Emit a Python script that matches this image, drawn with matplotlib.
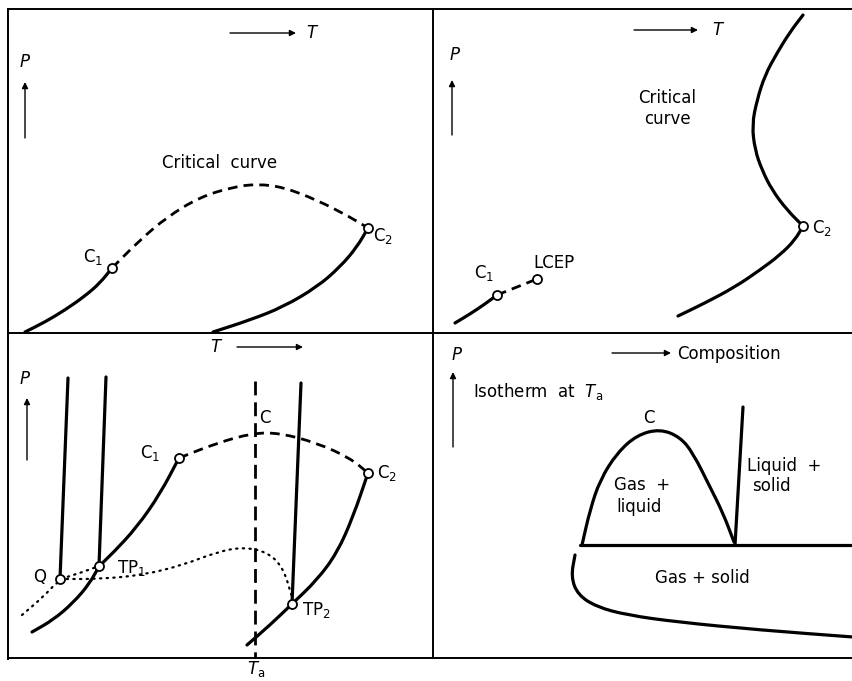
import numpy as np
from matplotlib import pyplot as plt
from matplotlib.path import Path
from matplotlib.patches import PathPatch

# schematic P-T / P-x diagrams, coordinates (pixels)
frame_h = [(8, 853, 9), (8, 853, 333), (8, 853, 658)]
frame_v = [(8, 9, 659), (433, 9, 658)]

# top left panel
tl_left = [(25, 332), (45, 322), (65, 310), (85, 296), (100, 283), (112, 268)]
tl_crit = [(112, 268), (140, 240), (167, 217), (200, 197), (233, 187), (257, 184),
           (283, 187), (317, 200), (350, 217), (368, 228)]
tl_right = [(213, 332), (250, 320), (283, 307), (317, 287), (340, 267), (357, 247), (368, 228)]
tl_pts = [(112, 268), (368, 228)]

# top right panel
tr_left = [(455, 323), (470, 314), (485, 304), (497, 295)]
tr_dash = [(497, 295), (537, 279)]
tr_crit = [(803, 15), (790, 32), (777, 53), (765, 75), (757, 100), (752, 125),
           (755, 150), (762, 170), (772, 190), (787, 210), (803, 226)]
tr_low = [(803, 226), (795, 240), (780, 255), (760, 270), (735, 287), (705, 303), (678, 316)]
tr_pts = [(497, 295), (537, 279), (803, 226)]

# bottom left panel
bl_melt = [[(68, 378), (60, 579)], [(106, 377), (99, 566)], [(301, 383), (292, 604)]]
bl_left = [(32, 632), (53, 620), (73, 603), (90, 583), (99, 566), (113, 553),
           (137, 527), (160, 494), (179, 458)]
bl_crit = [(179, 458), (217, 443), (253, 433), (280, 433), (317, 443), (350, 458), (368, 473)]
bl_right = [(247, 645), (270, 625), (292, 604), (317, 580), (337, 553), (353, 517), (368, 473)]
bl_dot_a = [(22, 615), (43, 597), (60, 579), (80, 573), (99, 566)]
bl_dot_b = [(60, 579), (100, 579), (143, 575), (183, 565), (217, 552), (243, 547),
            (267, 552), (283, 567), (292, 597)]
bl_iso = [(255, 381), (255, 658)]
bl_pts = [(60, 579), (99, 566), (179, 458), (368, 473), (292, 604)]

# bottom right panel
br_dome = [(582, 545), (590, 510), (600, 480), (617, 453), (637, 435), (660, 429),
           (680, 437), (693, 453), (710, 487), (723, 513), (734, 542)]
br_liq = [(735, 545), (743, 407)]
br_tp = [(580, 545), (853, 545)]
br_low = [(575, 555), (571, 577), (578, 595), (597, 607), (627, 615), (677, 622),
          (760, 630), (853, 637)]

fig = plt.figure(figsize=(8.53, 6.81), dpi=100)
ax = fig.add_axes([0, 0, 1, 1])
ax.set_xlim(0, 853)
ax.set_ylim(681, 0)
ax.axis('off')

for x0, x1, y in frame_h:
    ax.plot([x0, x1], [y, y], color='k', lw=1.4)
for x, y0, y1 in frame_v:
    ax.plot([x, x], [y0, y1], color='k', lw=1.4)


def smooth(pts, **style):
    # quadratic bezier through midpoints, the read points act as controls
    p = np.array(pts, dtype=float)
    if len(p) < 3:
        verts, codes = list(p), [Path.MOVETO, Path.LINETO]
    else:
        mids = (p[:-1] + p[1:]) / 2
        verts = [p[0], mids[0]]
        codes = [Path.MOVETO, Path.LINETO]
        for i in range(1, len(p) - 1):
            verts += [p[i], mids[i]]
            codes += [Path.CURVE3, Path.CURVE3]
        verts.append(p[-1])
        codes.append(Path.LINETO)
    ax.add_patch(PathPatch(Path(verts, codes), fill=False, edgecolor='k', **style))


def solid(pts, lw=2.3):
    smooth(pts, lw=lw, capstyle='round', joinstyle='round')


def dashed(pts, lw=2.0):
    smooth(pts, lw=lw, linestyle=(0, (3.5, 2.2)))


def dotted(pts):
    smooth(pts, lw=1.6, linestyle=(0, (0.6, 2.4)), capstyle='round')


def circles(pts):
    p = np.array(pts)
    ax.plot(p[:, 0], p[:, 1], 'o', ms=6.5, mfc='white', mec='k', mew=1.3, zorder=5)


def arrow(x0, y0, x1, y1):
    ax.annotate('', xy=(x1, y1), xytext=(x0, y0),
                arrowprops=dict(arrowstyle='-|>', lw=1.0, color='k', mutation_scale=9,
                                shrinkA=0, shrinkB=0))


fs = 12
kw = dict(fontsize=fs, family='DejaVu Sans', va='center')

# top left
solid(tl_left)
dashed(tl_crit)
solid(tl_right)
circles(tl_pts)
arrow(230, 33, 296, 33)
ax.text(306, 33, '$T$', ha='left', **kw)
ax.text(25, 62, '$P$', ha='center', **kw)
arrow(25, 138, 25, 82)
ax.text(220, 163, 'Critical  curve', ha='center', **kw)
ax.text(93, 257, 'C$_1$', ha='center', **kw)
ax.text(373, 236, 'C$_2$', ha='left', **kw)

# top right
solid(tr_left)
dashed(tr_dash)
solid(tr_crit)
solid(tr_low)
circles(tr_pts)
arrow(634, 30, 698, 30)
ax.text(712, 30, '$T$', ha='left', **kw)
ax.text(455, 55, '$P$', ha='center', **kw)
arrow(452, 135, 452, 80)
ax.text(667, 98, 'Critical', ha='center', **kw)
ax.text(667, 119, 'curve', ha='center', **kw)
ax.text(484, 273, 'C$_1$', ha='center', **kw)
ax.text(533, 263, 'LCEP', ha='left', **kw)
ax.text(812, 228, 'C$_2$', ha='left', **kw)

# bottom left
for seg in bl_melt:
    solid(seg)
solid(bl_left)
dashed(bl_crit)
solid(bl_right)
dotted(bl_dot_a)
dotted(bl_dot_b)
smooth(bl_iso, lw=2.0, linestyle=(0, (5, 2.5)))
circles(bl_pts)
ax.text(217, 347, '$T$', ha='center', **kw)
arrow(237, 347, 303, 347)
ax.text(25, 379, '$P$', ha='center', **kw)
arrow(27, 460, 27, 398)
ax.text(265, 418, 'C', ha='center', **kw)
ax.text(150, 453, 'C$_1$', ha='center', **kw)
ax.text(377, 473, 'C$_2$', ha='left', **kw)
ax.text(40, 577, 'Q', ha='center', **kw)
ax.text(117, 568, 'TP$_1$', ha='left', **kw)
ax.text(302, 610, 'TP$_2$', ha='left', **kw)
ax.text(256, 669, '$T_\\mathrm{a}$', ha='center', **kw)

# bottom right
solid(br_dome)
solid(br_liq)
solid(br_tp)
solid(br_low)
ax.text(457, 355, '$P$', ha='center', **kw)
arrow(453, 447, 453, 372)
arrow(612, 353, 671, 353)
ax.text(677, 354, 'Composition', ha='left', **kw)
ax.text(473, 392, 'Isotherm  at  $T_\\mathrm{a}$', ha='left', **kw)
ax.text(649, 418, 'C', ha='center', **kw)
ax.text(614, 485, 'Gas  +', ha='left', **kw)
ax.text(616, 507, 'liquid', ha='left', **kw)
ax.text(747, 466, 'Liquid  +', ha='left', **kw)
ax.text(752, 486, 'solid', ha='left', **kw)
ax.text(702, 578, 'Gas + solid', ha='center', **kw)

fig.savefig('out.png', dpi=100)
